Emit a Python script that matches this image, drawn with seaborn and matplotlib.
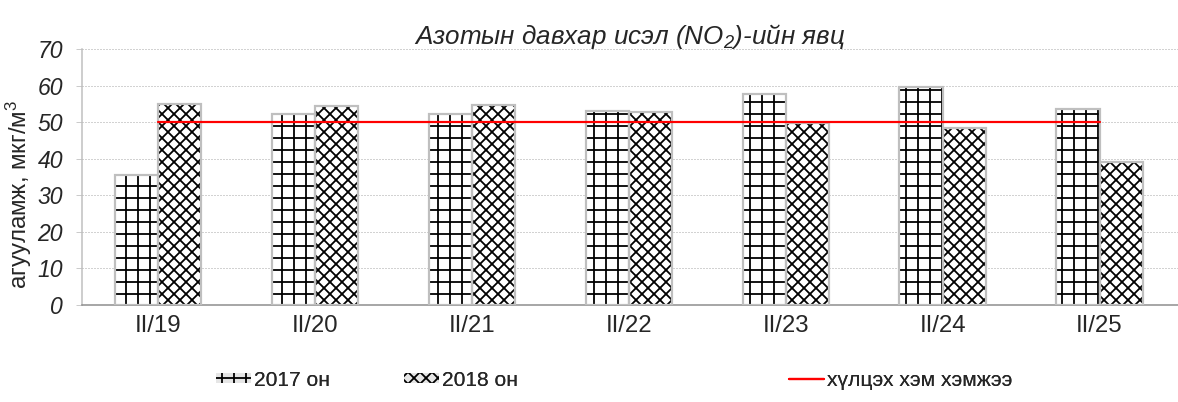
import pandas as pd
import matplotlib
matplotlib.use('Agg')
import matplotlib.pyplot as plt
from matplotlib.patches import Rectangle, Patch
from matplotlib.lines import Line2D
import seaborn as sns

# -------------------------
# DATA
# -------------------------
dates = ['II/19', 'II/20', 'II/21', 'II/22', 'II/23', 'II/24', 'II/25']
no2_2017 = [35.5, 52.3, 52.3, 53.0, 57.6, 59.7, 53.5]
no2_2018 = [54.9, 54.5, 54.7, 52.7, 49.8, 48.5, 39.0]
limit = [50, 50, 50, 50, 50, 50, 50]
series = ['2017 он', '2018 он']
limit_label = 'хүлцэх хэм хэмжээ'

df = pd.DataFrame({
    'date': dates * 2,
    'value': no2_2017 + no2_2018,
    'year': [series[0]] * len(dates) + [series[1]] * len(dates),
})

# -------------------------
# STYLE
# -------------------------
sns.set_style('white')
plt.rcParams['font.family'] = ['Liberation Sans', 'DejaVu Sans']
plt.rcParams['mathtext.default'] = 'regular'
plt.rcParams['hatch.linewidth'] = 1.8

edge_grey = '#bfbfbf'
hatches = ['+', 'xx']

fig = plt.figure(figsize=(1178 / 72, 402 / 72), dpi=72)
ax = fig.add_axes([82 / 1178, 1 - 305 / 402, 1 - 82 / 1178, (305 - 49) / 402])

sns.barplot(data=df, x='date', y='value', hue='year', hue_order=series,
            palette=['white', 'white'], width=0.55, edgecolor='black',
            linewidth=0, ax=ax, legend=False)

for cont, h in zip(ax.containers, hatches):
    for bar in cont:
        bar.set_hatch(h)
        ax.add_patch(Rectangle(bar.get_xy(), bar.get_width(), bar.get_height(),
                               fill=False, edgecolor=edge_grey, linewidth=2.2, zorder=3))

ax.plot(range(len(dates)), limit, color='#ff0000', linewidth=2.2, zorder=4)

ax.set_xlim(-0.485, 6.5)
ax.set_ylim(0, 70)
ax.set_yticks(range(0, 71, 10))
ax.yaxis.grid(True, linestyle=(0, (1, 2)), color='#a6a6a6', linewidth=1)
ax.set_axisbelow(True)

for s in ['top', 'right']:
    ax.spines[s].set_visible(False)
ax.spines['left'].set_color(edge_grey)
ax.spines['left'].set_linewidth(1.5)
ax.spines['bottom'].set_color('#8c8c8c')
ax.spines['bottom'].set_linewidth(1.5)

ax.tick_params(axis='y', left=True, length=6, color=edge_grey, labelsize=23, pad=13)
ax.tick_params(axis='x', bottom=False, labelsize=24, pad=6)
for lbl in ax.get_yticklabels():
    lbl.set_fontstyle('italic')

ax.set_xlabel('')
ax.set_ylabel('агууламж, мкг/м$^3$', fontsize=24)
ax.yaxis.set_label_coords(-0.044, 0.43)
ax.set_title('Азотын давхар исэл (NO$_2$)-ийн явц', fontsize=26,
             fontstyle='italic', pad=5)

# -------------------------
# LEGEND
# -------------------------
h2017 = Patch(facecolor='#e6e6e6', edgecolor='black', hatch='+', linewidth=0)
h2018 = Patch(facecolor='#e6e6e6', edgecolor='black', hatch='xx', linewidth=0)
hline = Line2D([0], [0], color='#ff0000', linewidth=2.2)

for handle, label, x0 in [(h2017, series[0], 205 / 1178),
                          (h2018, series[1], 393 / 1178),
                          (hline, limit_label, 778 / 1178)]:
    leg = fig.legend([handle], [label], loc='center left',
                     bbox_to_anchor=(x0, 1 - 380 / 402), frameon=False,
                     fontsize=21, handlelength=1.7, handleheight=0.4,
                     handletextpad=0.15, borderpad=0)
    fig.add_artist(leg)

fig.savefig('out.png', dpi=72)
